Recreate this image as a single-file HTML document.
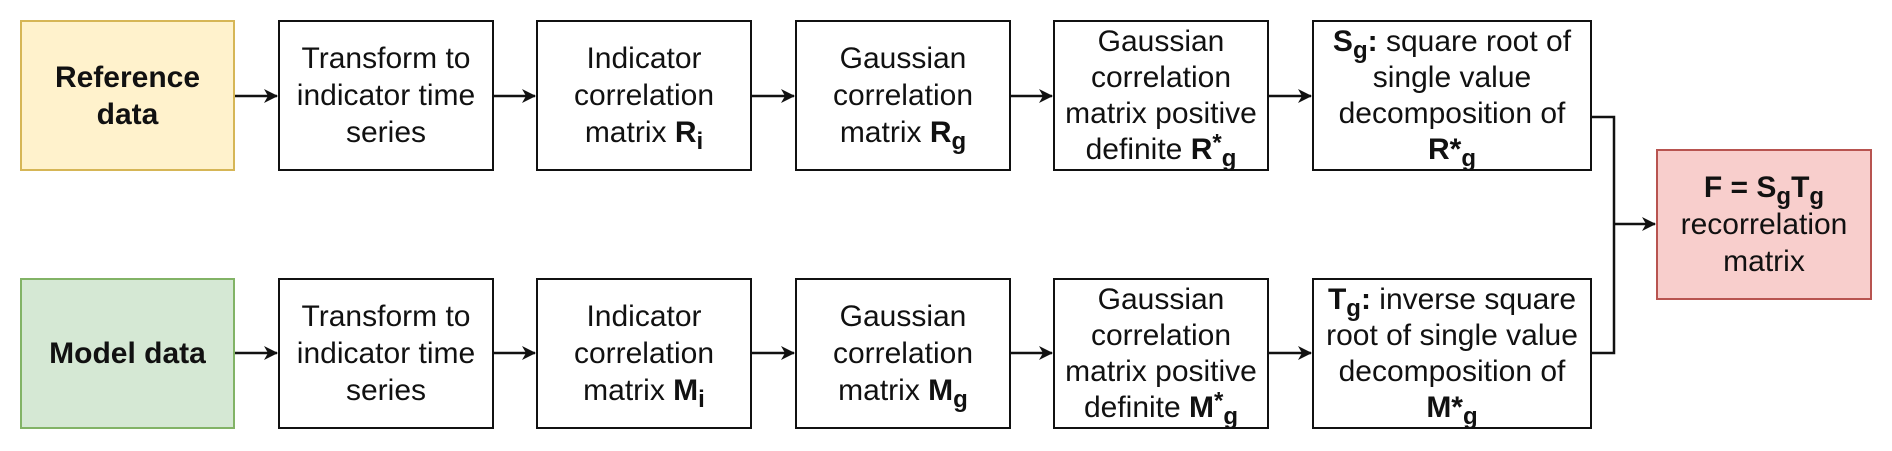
<!DOCTYPE html>
<html><head><meta charset="utf-8"><style>
body{margin:0;width:1892px;height:451px;background:#fff;position:relative;overflow:hidden;font-family:"Liberation Sans",Arial,sans-serif;}
.b{position:absolute;box-sizing:border-box;border:2.5px solid #111;background:#fff;display:flex;align-items:center;justify-content:center;text-align:center;font-size:30px;line-height:37px;color:#111;}
.b>span{display:block}
sub{font-size:0.8em;vertical-align:-0.3em;line-height:0}
sup{font-size:0.8em;vertical-align:0.35em;line-height:0}
b{font-weight:bold}
svg{position:absolute;left:0;top:0}
</style></head><body>
<svg width="1892" height="451">
<defs><marker id="a" markerWidth="14" markerHeight="14" refX="13" refY="7" orient="auto" markerUnits="userSpaceOnUse"><path d="M0,0 L14,7 L0,14 L4,7z" fill="#111"/></marker></defs>
<g stroke="#111" stroke-width="2.5" fill="none">
<path d="M235,96H277" marker-end="url(#a)"/><path d="M494,96H535" marker-end="url(#a)"/><path d="M752,96H794" marker-end="url(#a)"/><path d="M1011,96H1052" marker-end="url(#a)"/><path d="M1269,96H1311" marker-end="url(#a)"/>
<path d="M235,353H277" marker-end="url(#a)"/><path d="M494,353H535" marker-end="url(#a)"/><path d="M752,353H794" marker-end="url(#a)"/><path d="M1011,353H1052" marker-end="url(#a)"/><path d="M1269,353H1311" marker-end="url(#a)"/>
<path d="M1592,117H1614V353H1592"/><path d="M1614,224H1655" marker-end="url(#a)"/>
</g></svg>
<div class="b" style="left:20px;top:20px;width:215px;height:151px;background:#fff2cc;border-color:#d6b656;font-weight:bold"><span>Reference<br>data</span></div>
<div class="b" style="left:278px;top:20px;width:216px;height:151px"><span>Transform to<br>indicator time<br>series</span></div>
<div class="b" style="left:536px;top:20px;width:216px;height:151px"><span>Indicator<br>correlation<br>matrix <b>R<sub>i</sub></b></span></div>
<div class="b" style="left:795px;top:20px;width:216px;height:151px"><span>Gaussian<br>correlation<br>matrix <b>R<sub>g</sub></b></span></div>
<div class="b" style="left:1053px;top:20px;width:216px;height:151px;line-height:36px"><span>Gaussian<br>correlation<br>matrix positive<br>definite <b>R<sup>*</sup><sub>g</sub></b></span></div>
<div class="b" style="left:1312px;top:20px;width:280px;height:151px;line-height:36px"><span><b>S<sub>g</sub>:</b> square root of<br>single value<br>decomposition of<br><b>R*<sub>g</sub></b></span></div>
<div class="b" style="left:20px;top:278px;width:215px;height:151px;background:#d5e8d4;border-color:#82b366;font-weight:bold"><span>Model data</span></div>
<div class="b" style="left:278px;top:278px;width:216px;height:151px"><span>Transform to<br>indicator time<br>series</span></div>
<div class="b" style="left:536px;top:278px;width:216px;height:151px"><span>Indicator<br>correlation<br>matrix <b>M<sub>i</sub></b></span></div>
<div class="b" style="left:795px;top:278px;width:216px;height:151px"><span>Gaussian<br>correlation<br>matrix <b>M<sub>g</sub></b></span></div>
<div class="b" style="left:1053px;top:278px;width:216px;height:151px;line-height:36px"><span>Gaussian<br>correlation<br>matrix positive<br>definite <b>M<sup>*</sup><sub>g</sub></b></span></div>
<div class="b" style="left:1312px;top:278px;width:280px;height:151px;line-height:36px"><span><b>T<sub>g</sub>:</b> inverse square<br>root of single value<br>decomposition of<br><b>M*<sub>g</sub></b></span></div>
<div class="b" style="left:1656px;top:149px;width:216px;height:151px;background:#f8cecc;border-color:#b85450"><span><b>F = S<sub>g</sub>T<sub>g</sub></b><br>recorrelation<br>matrix</span></div>
</body></html>
